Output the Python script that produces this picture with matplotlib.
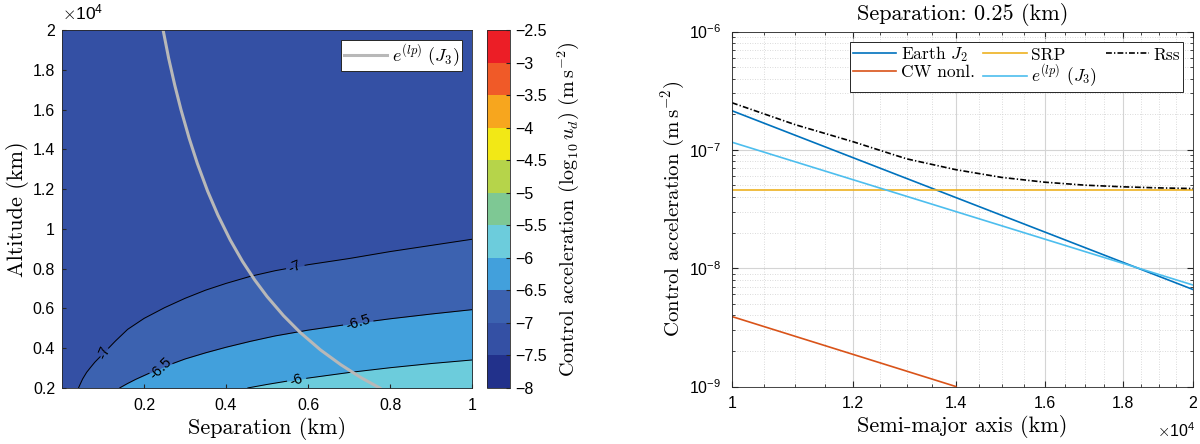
import numpy as np
import matplotlib
matplotlib.use('Agg')
import matplotlib.pyplot as plt
from matplotlib.colors import ListedColormap, BoundaryNorm
from matplotlib.cm import ScalarMappable
from matplotlib.contour import ContourSet
from matplotlib.ticker import FixedLocator, FuncFormatter, NullFormatter, LogFormatterSciNotation

plt.rcParams['font.family'] = ['Liberation Sans', 'DejaVu Sans']
plt.rcParams['mathtext.fontset'] = 'cm'
CM = 'cmr10'

# Left panel: contour lines of log10(u_d) (separation km, altitude km)
sep_m7 = [0.04, 0.05, 0.06, 0.07, 0.08, 0.10, 0.13, 0.16, 0.20, 0.25, 0.30, 0.35,
          0.40, 0.46, 0.52, 0.60, 0.70, 0.80, 0.90, 1.00]
alt_m7 = [2000, 2450, 2790, 3050, 3300, 3720, 4360, 4950, 5500, 6040, 6510, 6920,
          7260, 7620, 7900, 8200, 8510, 8860, 9170, 9480]
sep_m65 = [0.14, 0.16, 0.18, 0.21, 0.25, 0.30, 0.35, 0.40, 0.46, 0.52, 0.60, 0.70,
           0.80, 0.90, 1.00]
alt_m65 = [2000, 2230, 2440, 2720, 3080, 3460, 3770, 4050, 4350, 4620, 4910, 5210,
           5480, 5720, 5940]
sep_m6 = [0.452, 0.50, 0.55, 0.60, 0.70, 0.80, 0.90, 1.00]
alt_m6 = [2000, 2180, 2350, 2500, 2780, 3020, 3230, 3410]
contour_levels = [-7, -6.5, -6]
band_colors = ['#3450a4', '#3c62b0', '#42a0dc', '#6cccdc']   # <-7, -7..-6.5, -6.5..-6, >-6

# e^(lp) (J3) boundary
sep_lp = [0.2465, 0.26, 0.275, 0.29, 0.31, 0.33, 0.355, 0.38, 0.41, 0.44, 0.47, 0.50,
          0.54, 0.58, 0.63, 0.68, 0.73, 0.775]
alt_lp = [20000, 18580, 17220, 16000, 14560, 13290, 11900, 10700, 9450, 8370, 7430, 6600,
          5640, 4810, 3920, 3170, 2510, 2000]

# colour scale bins (-8 ... -2.5)
cbar_bounds = [-8, -7.5, -7, -6.5, -6, -5.5, -5, -4.5, -4, -3.5, -3, -2.5]
cbar_colors = ['#22318b', '#3450a4', '#3c62b0', '#42a0dc', '#6cccdc', '#7ec894',
               '#b6d44a', '#f2e816', '#f7a61e', '#f05a28', '#ec1e26']

# Right panel: separation 0.25 km
sma = [1.0e4, 2.0e4]
earth_j2 = [2.14e-7, 6.6e-9]
srp = [4.6e-8, 4.6e-8]
elp_j3 = [1.16e-7, 7.2e-9]
sma_cw = [1.0e4, 1.4e4]
cw_nonl = [3.9e-9, 1.0e-9]
sma_rss = [1.0e4, 1.1e4, 1.2e4, 1.3e4, 1.4e4, 1.5e4, 1.6e4, 1.7e4, 1.8e4, 1.9e4, 2.0e4]
rss = [2.5e-7, 1.63e-7, 1.17e-7, 8.4e-8, 6.8e-8, 5.85e-8, 5.33e-8, 5.03e-8, 4.87e-8, 4.77e-8, 4.71e-8]

fig = plt.figure(figsize=(12, 4.44), dpi=100)
ax1 = fig.add_axes([0.0517, 0.1261, 0.3417, 0.8063])
cax = fig.add_axes([0.4058, 0.1261, 0.0192, 0.8063])
ax2 = fig.add_axes([0.610, 0.1295, 0.3842, 0.7995])

# ---- left
ax1.set_facecolor(band_colors[0])
ax1.fill_between(sep_m7, 2000, alt_m7, color=band_colors[1], lw=0)
ax1.fill_between(sep_m65, 2000, alt_m65, color=band_colors[2], lw=0)
ax1.fill_between(sep_m6, 2000, alt_m6, color=band_colors[3], lw=0)
segs = [[np.column_stack([sep_m7, alt_m7])],
        [np.column_stack([sep_m65, alt_m65])],
        [np.column_stack([sep_m6, alt_m6])]]
cs = ContourSet(ax1, contour_levels, segs, colors='k', linewidths=0.7,
                negative_linestyles='solid')
ax1.clabel(cs, contour_levels, inline=True, fontsize=10.5, inline_spacing=4,
           fmt={-7: '-7', -6.5: '-6.5', -6: '-6'},
           manual=[(0.10, 3800), (0.568, 8100), (0.24, 3000), (0.723, 5250), (0.572, 2420)])
ax1.plot(sep_lp, alt_lp, color='#b8b8b8', lw=2.2, label=r'$e^{(lp)}\ (J_3)$')
ax1.set_xlim(0, 1)
ax1.set_ylim(2000, 20000)
ax1.xaxis.set_major_locator(FixedLocator([0.2, 0.4, 0.6, 0.8, 1.0]))
ax1.xaxis.set_major_formatter(FuncFormatter(lambda v, p: f'{v:g}'))
ax1.yaxis.set_major_locator(FixedLocator(np.arange(2000, 20001, 2000)))
ax1.yaxis.set_major_formatter(FuncFormatter(lambda v, p: f'{v / 1e4:g}'))
ax1.tick_params(direction='in', length=3, labelsize=11.5, color='#262626')
ax1.tick_params(axis='x', pad=7)
ax1.tick_params(axis='y', pad=5)
for sp in ax1.spines.values():
    sp.set_color('#262626')
    sp.set_linewidth(0.6)
ax1.set_xlabel('Separation (km)', fontfamily=CM, fontsize=16, labelpad=3)
ax1.set_ylabel('Altitude (km)', fontfamily=CM, fontsize=16, labelpad=3)
leg1 = ax1.legend(loc='upper right', fontsize=13, fancybox=False, framealpha=1,
                  edgecolor='#262626', borderaxespad=0.55, handlelength=2.4,
                  handletextpad=0.3, borderpad=0.12)
leg1.get_frame().set_linewidth(0.7)
fig.text(0.052, 0.950, r'$\times\mathdefault{10^{4}}$', fontsize=12.5, ha='left', va='bottom')

# colorbar
sm = ScalarMappable(norm=BoundaryNorm(cbar_bounds, len(cbar_colors)),
                    cmap=ListedColormap(cbar_colors))
cb = fig.colorbar(sm, cax=cax, ticks=cbar_bounds)
cb.ax.set_yticklabels([f'{b:g}'.replace('-', '\u2212') for b in cbar_bounds])
cb.ax.tick_params(direction='in', length=3, labelsize=11.5, color='#262626')
cb.outline.set_edgecolor('#262626')
cb.outline.set_linewidth(0.6)
cb.set_label(r'Control acceleration $(\log_{10}u_d)$ $(\mathrm{m\,s^{-2}})$',
             fontfamily=CM, fontsize=14.5, labelpad=6)

# ---- right
ax2.set_xscale('log')
ax2.set_yscale('log')
l_j2, = ax2.plot(sma, earth_j2, color='#0072bd', lw=1.2)
l_cw, = ax2.plot(sma_cw, cw_nonl, color='#d95319', lw=1.2)
l_srp, = ax2.plot(sma, srp, color='#edb120', lw=1.2)
l_j3, = ax2.plot(sma, elp_j3, color='#4dbeee', lw=1.2)
l_rss, = ax2.plot(sma_rss, rss, color='k', lw=1.2, ls=(0, (3.5, 1.3, 0.8, 1.3)))
ax2.set_xlim(1e4, 2e4)
ax2.set_ylim(1e-9, 1e-6)
ax2.xaxis.set_major_locator(FixedLocator([1.0e4, 1.2e4, 1.4e4, 1.6e4, 1.8e4, 2.0e4]))
ax2.xaxis.set_major_formatter(FuncFormatter(lambda v, p: f'{v / 1e4:g}'))
ax2.xaxis.set_minor_locator(FixedLocator(np.arange(1.05e4, 2.0e4, 0.05e4)))
ax2.xaxis.set_minor_formatter(NullFormatter())
ax2.yaxis.set_major_locator(FixedLocator([1e-9, 1e-8, 1e-7, 1e-6]))
ax2.yaxis.set_major_formatter(LogFormatterSciNotation())
ax2.yaxis.set_minor_locator(FixedLocator([m * 10.0 ** e for e in (-9, -8, -7) for m in range(2, 10)]))
ax2.yaxis.set_minor_formatter(NullFormatter())
ax2.grid(which='major', color='#d4d4d4', lw=0.8)
ax2.grid(which='minor', color='#cfcfcf', lw=0.6, ls=(0, (1, 2)))
ax2.set_axisbelow(True)
ax2.tick_params(which='both', direction='in', top=True, right=True, labelsize=11.5,
                color='#262626')
ax2.tick_params(which='major', length=4)
ax2.tick_params(which='minor', length=2)
ax2.tick_params(axis='x', which='major', pad=7)
ax2.tick_params(axis='y', which='major', pad=8)
for sp in ax2.spines.values():
    sp.set_color('#262626')
    sp.set_linewidth(0.6)
ax2.set_xlabel('Semi-major axis (km)', fontfamily=CM, fontsize=16, labelpad=3)
ax2.set_ylabel(r'Control acceleration $(\mathrm{m\,s^{-2}})$', fontfamily=CM,
               fontsize=15, labelpad=1)
ax2.set_title('Separation: 0.25 (km)', fontfamily=CM, fontsize=16, pad=8)
leg2 = ax2.legend([l_j2, l_cw, l_srp, l_j3, l_rss],
                  [r'Earth $J_2$', 'CW nonl.', 'SRP', r'$e^{(lp)}$ $(J_3)$', 'Rss'],
                  ncol=3, loc='upper right', prop={'family': CM, 'size': 12.5},
                  fancybox=False, framealpha=1, edgecolor='#262626', borderaxespad=0.6,
                  handlelength=2.5, columnspacing=0.5, handletextpad=0.25,
                  labelspacing=0.02, borderpad=0.15)
leg2.get_frame().set_linewidth(0.7)
fig.text(0.996, 0.008, r'$\times\mathdefault{10^{4}}$', fontsize=11.5, ha='right', va='bottom')

for a in (ax1, ax2, cax):
    a.xaxis.get_offset_text().set_visible(False)
    a.yaxis.get_offset_text().set_visible(False)

fig.savefig('out.png', dpi=100)
